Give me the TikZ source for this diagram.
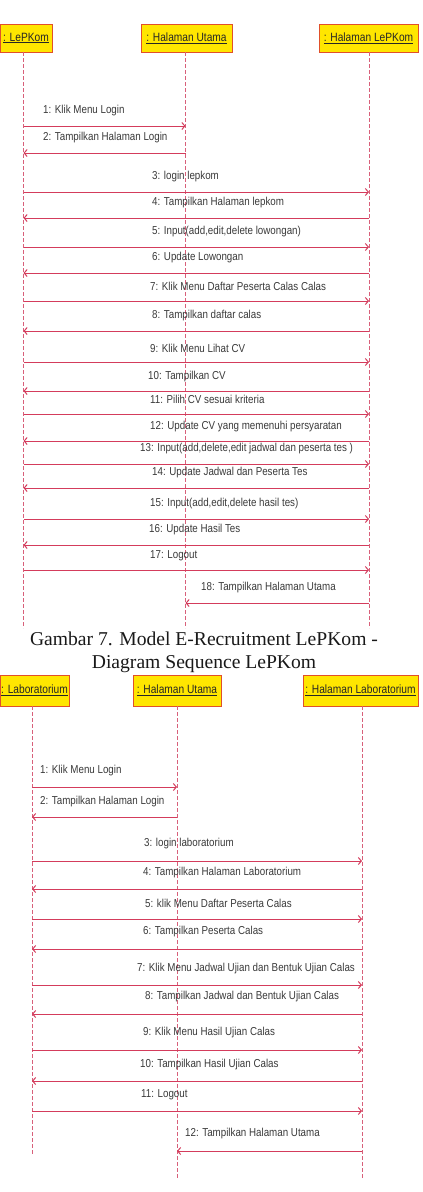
\documentclass[tikz,border=0pt]{standalone}
\usepackage{fontspec}
\setmainfont{Liberation Serif}
\newfontfamily\msgfont[FakeStretch=0.85]{Liberation Sans}
\usetikzlibrary{arrows.meta}
\definecolor{objfill}{HTML}{FFE600}
\definecolor{objdraw}{HTML}{E0502A}
\definecolor{lifec}{HTML}{D8607A}
\definecolor{msgc}{HTML}{D43C5C}
\definecolor{txtc}{HTML}{3A3A3A}
\tikzset{
  obj/.style={draw=objdraw, fill=objfill, line width=1pt, inner sep=0pt, text=black!85,
    font=\msgfont\fontsize{12}{14}\selectfont},
  life/.style={draw=lifec, dashed, dash pattern=on 4pt off 2pt, line width=0.7pt},
  msg/.style={draw=msgc, line width=1pt, -{Straight Barb[length=3pt,width=7pt]}},
  lbl/.style={anchor=west, inner sep=0pt, text=txtc, font=\msgfont\fontsize{11.5}{13}\selectfont},
  captxt/.style={font=\fontsize{19.6}{23}\selectfont, anchor=base, inner sep=0pt, text=black!90}
}
\begin{document}
\begin{tikzpicture}[x=1pt,y=-1pt]
\fill[white] (0,0) rectangle (423,1192);
\useasboundingbox (0,0) rectangle (423,1192);
% ---- top diagram ----
\node[obj, minimum width=52pt, minimum height=28pt] (lep) at (26,38) {\underline{: LePKom}};
\node[obj, minimum width=91pt, minimum height=28pt] (hu) at (186.5,38) {\underline{: Halaman Utama}};
\node[obj, minimum width=99pt, minimum height=28pt] (hl) at (368.5,38) {\underline{: Halaman LePKom}};
\coordinate (A) at (23.5,52); \coordinate (Ae) at (23.5,628);
\coordinate (B) at (185.5,52); \coordinate (Be) at (185.5,628);
\coordinate (C) at (369,52); \coordinate (Ce) at (369,628);
\draw[life] (A) -- (Ae);
\draw[life] (B) -- (Be);
\draw[life] (C) -- (Ce);
\foreach \ay/\ly/\f/\t/\lx/\txt [count=\i] in {
 126/111/A/B/43/{1: Klik Menu Login},
 153/138/B/A/43/{2: Tampilkan Halaman Login},
 192/177/A/C/152/{3: login lepkom},
 218/203/C/A/152/{4: Tampilkan Halaman lepkom},
 247/232/A/C/152/{5: Input(add,edit,delete lowongan)},
 273/258/C/A/152/{6: Update Lowongan},
 301/286/A/C/150/{7: Klik Menu Daftar Peserta Calas Calas},
 331/316/C/A/152/{8: Tampilkan daftar calas},
 362/348/A/C/150/{9: Klik Menu Lihat CV},
 391/377/C/A/148/{10: Tampilkan CV},
 414/399/A/C/150/{11: Pilih CV sesuai kriteria},
 441/427/C/A/150/{12: Update CV yang memenuhi persyaratan},
 464/449/A/C/140/{13: Input(add,delete,edit jadwal dan peserta tes )},
 488/473/C/A/152/{14: Update Jadwal dan Peserta Tes},
 519/504/A/C/150/{15: Input(add,edit,delete hasil tes)},
 545/530/C/A/149/{16: Update Hasil Tes},
 570/556/A/C/150/{17: Logout},
 603/588/C/B/201/{18: Tampilkan Halaman Utama}}
{
  \draw[msg] (\f |- 0,\ay) -- (\t |- 0,\ay);
  \node[lbl] (tm\i) at (\lx,\ly) {\txt};
}
\node[captxt] (cap1) at (204,645) {Gambar 7. Model E-Recruitment LePKom -};
\node[captxt] (cap2) at (204,668) {Diagram Sequence LePKom};
% ---- bottom diagram ----
\node[obj, minimum width=69pt, minimum height=31pt] (lab) at (34.5,690.5) {\underline{: Laboratorium}};
\node[obj, minimum width=88pt, minimum height=31pt] (hu2) at (177,690.5) {\underline{: Halaman Utama}};
\node[obj, minimum width=115pt, minimum height=31pt] (hlab) at (360.5,690.5) {\underline{: Halaman Laboratorium}};
\coordinate (D) at (32,706); \coordinate (De) at (32,1155);
\coordinate (E) at (177,706); \coordinate (Ee) at (177,1178);
\coordinate (F) at (362,706); \coordinate (Fe) at (362,1178);
\draw[life] (D) -- (De);
\draw[life] (E) -- (Ee);
\draw[life] (F) -- (Fe);
\foreach \ay/\ly/\f/\t/\lx/\txt [count=\i] in {
 787/771/D/E/40/{1: Klik Menu Login},
 817/802/E/D/40/{2: Tampilkan Halaman Login},
 861/844/D/F/144/{3: login laboratorium},
 889/873/F/D/143/{4: Tampilkan Halaman Laboratorium},
 919/903/D/F/145/{5: klik Menu Daftar Peserta Calas},
 949/932/F/D/143/{6: Tampilkan Peserta Calas},
 985/969/D/F/137/{7: Klik Menu Jadwal Ujian dan Bentuk Ujian Calas},
 1014/997/F/D/145/{8: Tampilkan Jadwal dan Bentuk Ujian Calas},
 1050/1033/D/F/143/{9: Klik Menu Hasil Ujian Calas},
 1081/1065/F/D/140/{10: Tampilkan Hasil Ujian Calas},
 1111/1095/D/F/141/{11: Logout},
 1151/1134/F/E/185/{12: Tampilkan Halaman Utama}}
{
  \draw[msg] (\f |- 0,\ay) -- (\t |- 0,\ay);
  \node[lbl] (bm\i) at (\lx,\ly) {\txt};
}
\end{tikzpicture}
\end{document}
